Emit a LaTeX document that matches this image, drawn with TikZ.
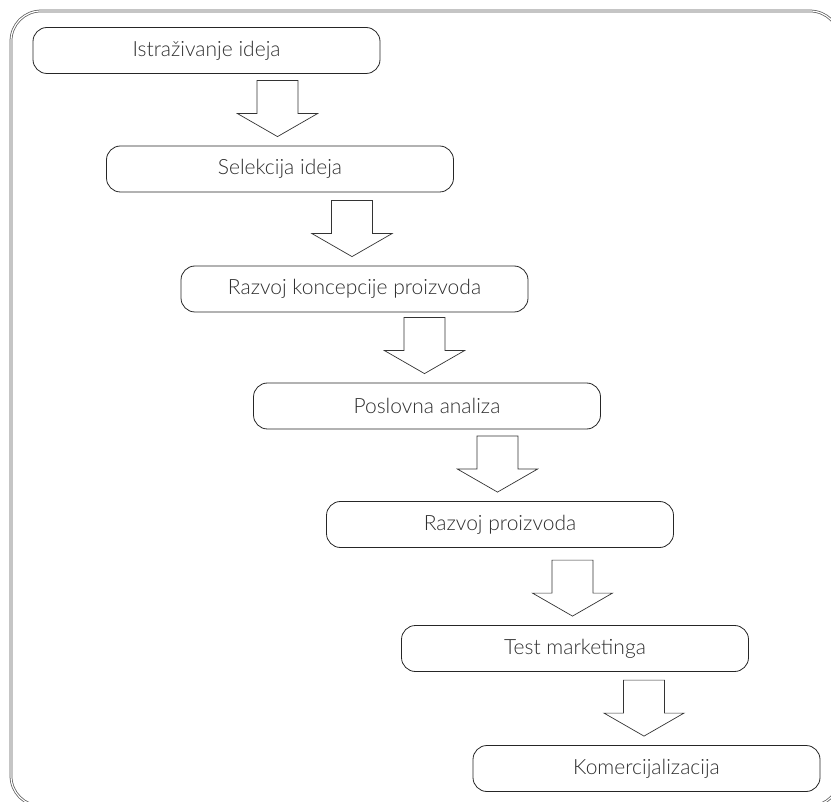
\documentclass[tikz,border=0pt]{standalone}
\usepackage{fontspec}
\setmainfont{Lato}[UprightFont=* Light]
\usetikzlibrary{calc}
\definecolor{txt}{HTML}{2E2E2E}
\definecolor{frame}{HTML}{5A5A5A}
\tikzset{
  stepbox/.style={draw=black!85, line width=0.8pt, rounded corners=14pt,
    minimum width=347pt, minimum height=46pt, inner sep=0pt,
    text=txt, font=\fontsize{21}{25}\selectfont},
  blockarr/.pic={\draw[draw=black!80, line width=0.7pt, line join=miter]
    (0,0) -- (-40,-23) -- (-20.5,-23) -- (-20.5,-56) -- (20.5,-56) -- (20.5,-23) -- (40,-23) -- cycle;}
}
\begin{document}
\begin{tikzpicture}[x=1pt,y=-1pt]
\useasboundingbox (0,0) rectangle (831,802);
\draw[draw=frame, double=white, double distance=1.2pt, line width=0.75pt, rounded corners=30pt]
  (11,11) rectangle (840,806);
\node[stepbox] (b1) at (206.5,50.5) {Istraživanje ideja};
\node[stepbox] (b2) at (280,169) {Selekcija ideja};
\node[stepbox] (b3) at (354.5,289) {Razvoj koncepcije proizvoda};
\node[stepbox] (b4) at (427,406) {Poslovna analiza};
\node[stepbox] (b5) at (500,524.5) {Razvoj proizvoda};
\node[stepbox] (b6) at (575,648.5) {Test marketinga};
\node[stepbox] (b7) at (646.5,768.5) {Komercijalizacija};
\foreach \n in {2,...,7}{
  \pic at ($(b\n.north)+(-2.5,-9)$) {blockarr};
}
\end{tikzpicture}
\end{document}
